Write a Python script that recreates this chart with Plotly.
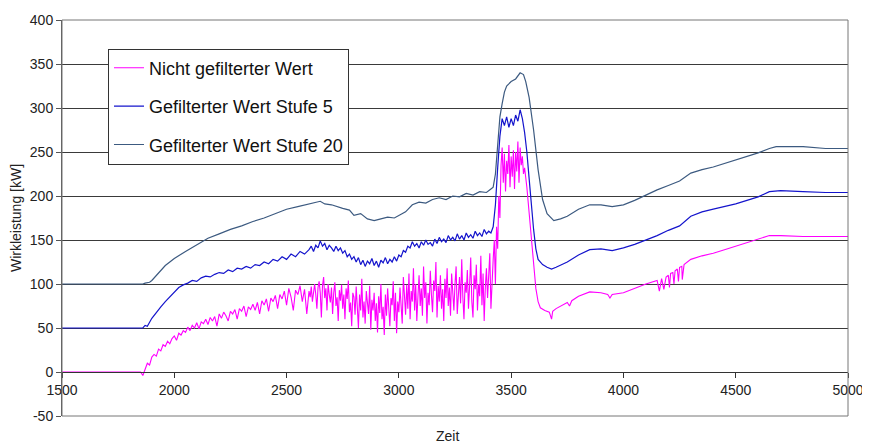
import plotly.graph_objects as go

# ---------------- data ----------------
x_raw = [1500, 1850,
         1860, 1870, 1880, 1890, 1900, 1910, 1920, 1930, 1940, 1950,
         1960, 1970, 1980, 1990, 2000, 2010, 2020, 2030, 2040, 2050,
         2060, 2070, 2080, 2090, 2100, 2110, 2120, 2130, 2140, 2150,
         2160, 2170, 2180, 2190, 2200, 2210, 2220, 2230, 2240, 2250,
         2260, 2270, 2280, 2290, 2300, 2310, 2320, 2330, 2340, 2350,
         2360, 2370, 2380, 2390, 2400, 2410, 2420, 2430, 2440, 2450,
         2460, 2470, 2480, 2490, 2500, 2510, 2520, 2530, 2540, 2550,
         2560, 2570, 2580, 2590,
         2600, 2605, 2610, 2615, 2620, 2625, 2630, 2635, 2640, 2645,
         2650, 2655, 2660, 2665, 2670, 2675, 2680, 2685, 2690, 2695,
         2700, 2705, 2710, 2715, 2720, 2725, 2730, 2735, 2740, 2745,
         2750, 2755, 2760, 2765, 2770, 2775, 2780, 2785, 2790, 2795,
         2800, 2805, 2810, 2815, 2820, 2825, 2830, 2835, 2840, 2845,
         2850, 2855, 2860, 2865, 2870, 2875, 2880, 2885, 2890, 2895,
         2900, 2905, 2910, 2915, 2920, 2925, 2930, 2935, 2940, 2945,
         2950, 2955, 2960, 2965, 2970, 2975, 2980, 2985, 2990, 2995,
         3000, 3005, 3010, 3015, 3020, 3025, 3030, 3035, 3040, 3045,
         3050, 3055, 3060, 3065, 3070, 3075, 3080, 3085, 3090, 3095,
         3100, 3105, 3110, 3115, 3120, 3125, 3130, 3135, 3140, 3145,
         3150, 3155, 3160, 3165, 3170, 3175, 3180, 3185, 3190, 3195,
         3200, 3205, 3210, 3215, 3220, 3225, 3230, 3235, 3240, 3245,
         3250, 3255, 3260, 3265, 3270, 3275, 3280, 3285, 3290, 3295,
         3300, 3305, 3310, 3315, 3320, 3325, 3330, 3335, 3340, 3345,
         3350, 3355, 3360, 3365, 3370, 3375, 3380, 3385, 3390, 3395,
         3400, 3405, 3410, 3415, 3420,
         3425, 3430, 3435, 3440, 3445, 3450, 3455, 3460,
         3465, 3470, 3475, 3480, 3485, 3490, 3495, 3500, 3505, 3510,
         3515, 3520, 3525, 3530, 3535, 3540, 3545, 3550, 3555, 3560,
         3570, 3580, 3590, 3600, 3610, 3620, 3630, 3650, 3670, 3680,
         3685, 3700, 3750, 3760, 3770, 3800, 3850, 3900, 3930, 3940,
         3950, 4000, 4050, 4100, 4150, 4160, 4170, 4180, 4190, 4200,
         4205, 4210, 4220, 4225, 4230, 4240, 4245, 4250, 4260, 4262,
         4270, 4300, 4350, 4400, 4450, 4500, 4550, 4600, 4650, 4700,
         4800, 4900, 5000]
y_raw = [0, 0,
         -4, 3, 10, 8, 17, 20, 18, 26, 24, 31,
         29, 35, 32, 38, 41, 36, 44, 42, 47, 45,
         51, 47, 53, 50, 56, 49, 57, 55, 60, 54,
         62, 58, 63, 52, 66, 61, 68, 64, 58, 69,
         66, 71, 60, 72, 69, 75, 63, 74, 71, 77,
         70, 79, 66, 81, 76, 83, 69, 84, 80, 87,
         72, 88, 83, 92, 76, 95, 85, 70, 93, 88,
         98, 80, 94, 66,
         92, 85, 97, 80, 95, 100, 88, 72, 96, 103,
         90, 62, 98, 108, 84, 95, 70, 100, 88, 79,
         96, 66, 90, 102, 75, 85, 58, 93, 81, 99,
         72, 88, 60, 95, 83, 104, 68, 79, 52, 90,
         85, 65, 97, 74, 50, 88, 70, 106, 62, 80,
         55, 92, 75, 66, 98, 48, 82, 70, 90, 58,
         78, 45, 86, 67, 100, 60, 74, 42, 88, 64,
         95, 70, 52, 84, 76, 103, 58, 90, 44, 80,
         68, 96, 74, 55, 108, 82, 65, 99, 72, 112,
         60, 92, 80, 118, 70, 100, 58, 86, 110, 75,
         95, 64, 120, 84, 102, 55, 90, 76, 115, 88,
         68, 104, 92, 125, 62, 98, 80, 110, 72, 94,
         58, 106, 84, 118, 75, 96, 64, 112, 88, 70,
         100, 120, 66, 92, 108, 78, 128, 85, 60, 102,
         90, 116, 72, 98, 130, 80, 62, 110, 94, 122,
         70, 100, 86, 132, 76, 112, 58, 96, 118, 84,
         104, 135, 72, 110, 128,
         150, 100, 165, 140, 200, 175, 235, 255,
         215, 248, 205, 240, 225, 258, 210, 245, 222, 252,
         208, 250, 228, 262, 215, 255, 235, 245, 225, 232,
         210, 180, 150, 120, 95, 80, 73, 70, 68, 60,
         69, 72, 79, 75, 81, 86, 91, 90, 88, 84,
         88, 90, 95, 100, 104, 92, 106, 94, 108, 110,
         96, 112, 113, 100, 115, 117, 103, 119, 120, 105,
         122, 128, 132, 135, 139, 143, 147, 151, 155, 155,
         154, 154, 154]

x_s5 = [1500, 1860, 1870,
        1880, 1900, 1920, 1940, 1960, 1980, 2000, 2020, 2040, 2060,
        2080, 2100, 2120, 2140, 2160, 2180, 2200, 2220, 2240, 2260,
        2280, 2300, 2320, 2340, 2360, 2380, 2400, 2420, 2440, 2460,
        2480, 2500, 2520, 2540, 2560, 2580,
        2600, 2610, 2620, 2630, 2640, 2650, 2660, 2670, 2680, 2690,
        2700, 2710, 2720, 2730, 2740, 2750, 2760, 2770, 2780, 2790,
        2800, 2810, 2820, 2830, 2840, 2850, 2860, 2870, 2880, 2890,
        2900, 2910, 2920, 2930, 2940, 2950, 2960, 2970, 2980, 2990,
        3000, 3010, 3020, 3030, 3040, 3050, 3060, 3070, 3080, 3090,
        3100, 3110, 3120, 3130, 3140, 3150, 3160, 3170, 3180, 3190,
        3200, 3210, 3220, 3230, 3240, 3250, 3260, 3270, 3280, 3290,
        3300, 3310, 3320, 3330, 3340, 3350, 3360, 3370, 3380, 3390,
        3400, 3410, 3420,
        3430, 3440, 3450, 3460, 3470, 3480, 3490, 3500, 3510, 3520,
        3530, 3540, 3550, 3560, 3570, 3580, 3590, 3600, 3610, 3620,
        3640, 3660, 3680, 3700, 3750, 3800, 3850, 3900, 3950, 4000,
        4050, 4100, 4150, 4200, 4250, 4300, 4350, 4400, 4450, 4500,
        4550, 4600, 4650, 4700, 4800, 4900, 5000]
y_s5 = [50, 50, 53,
        52, 61, 68, 74, 80, 85, 90, 96, 99, 101,
        104, 103, 107, 109, 108, 111, 113, 112, 116, 114,
        118, 117, 120, 118, 122, 121, 125, 123, 128, 126,
        131, 128, 134, 131, 137, 134,
        139, 143, 137, 144, 141, 149, 143, 146, 139, 144,
        141, 137, 143, 138, 141, 135, 138, 131, 134, 128,
        131, 125, 130, 122, 127, 120, 126, 123, 129, 121,
        126, 119, 127, 124, 130, 123, 128, 125, 131, 126,
        133, 131, 138, 136, 143, 141, 148, 143, 146, 141,
        148, 144, 150, 145, 147, 143, 151, 146, 153, 148,
        151, 147, 155, 150, 153, 149, 157, 151, 155, 150,
        158, 153, 156, 152, 160, 155, 158, 154, 162, 157,
        160, 158, 165,
        190, 232, 268, 288, 280, 290, 278, 288, 280, 292,
        285, 298, 288, 272, 250, 220, 190, 162, 140, 128,
        122, 119, 117, 119, 125, 133, 139, 140, 138, 141,
        145, 150, 155, 161, 166, 177, 182, 185, 188, 191,
        195, 199, 205, 206, 205, 204, 204]

x_s20 = [1500, 1860, 1870, 1890, 1900, 1920, 1940, 1960, 1980, 2000,
         2050, 2100, 2150, 2200, 2250, 2300, 2350, 2400, 2450, 2500,
         2550, 2600, 2650, 2670, 2700, 2750, 2780, 2800, 2830, 2860,
         2890, 2920, 2950, 2980, 3000, 3030, 3060, 3090, 3120, 3150,
         3180, 3210, 3240, 3270, 3300, 3330, 3360, 3390, 3410, 3420,
         3430, 3440, 3450, 3460, 3470, 3480, 3500, 3520, 3540, 3555,
         3565, 3580, 3600, 3620, 3640, 3660, 3690, 3720, 3750, 3800,
         3850, 3900, 3950, 4000, 4050, 4100, 4150, 4200, 4250, 4300,
         4350, 4400, 4450, 4500, 4550, 4600, 4650, 4680, 4800, 4900,
         5000]
y_s20 = [100, 100, 101, 102, 104, 110, 116, 121, 125, 129,
         137, 145, 152, 157, 162, 166, 171, 175, 180, 185,
         188, 191, 194, 191, 190, 186, 184, 178, 180, 174,
         172, 174, 176, 175, 178, 182, 190, 193, 192, 196,
         198, 196, 200, 199, 203, 201, 205, 204, 208, 210,
         225, 262, 290, 305, 318, 325, 330, 333, 340, 338,
         330, 312, 275, 230, 196, 180, 172, 174, 177, 185,
         190, 190, 188, 190, 195, 201, 207, 212, 217, 226,
         230, 233, 237, 241, 245, 249, 254, 256, 256, 254,
         254]

names = ["Nicht gefilterter Wert", "Gefilterter Wert Stufe 5", "Gefilterter Wert Stufe 20"]
x_ticks = [1500, 2000, 2500, 3000, 3500, 4000, 4500, 5000]
y_ticks = [-50, 0, 50, 100, 150, 200, 250, 300, 350, 400]

# ---------------- figure ----------------
FONT = "Liberation Sans, Arial, sans-serif"
fig = go.Figure()
series = [(x_raw, y_raw, "#FF00FF", 1.1), (x_s5, y_s5, "#1414CC", 1.2), (x_s20, y_s20, "#3C5A80", 1.2)]
for i, ((xs, ys, col, w), nm) in enumerate(zip(series, names)):
    fig.add_trace(go.Scatter(x=xs, y=ys, mode="lines", name=nm,
                             line=dict(color=col, width=w),
                             legendgroup=f"g{i}"))

fig.update_layout(
    width=862, height=436,
    margin=dict(l=54, r=22, t=4, b=28),
    paper_bgcolor="white", plot_bgcolor="white",
    font=dict(family=FONT, size=14, color="#222"),
    showlegend=True,
    legend=dict(x=0.0585, y=0.928, xanchor="left", yanchor="top",
                bgcolor="white", bordercolor="#333", borderwidth=1,
                font=dict(family=FONT, size=18, color="#111"),
                tracegroupgap=12, itemwidth=30),
    xaxis=dict(range=[1500, 5000], tickvals=x_ticks, ticktext=[str(v) for v in x_ticks],
               showgrid=False, zeroline=False, showline=True, linecolor="#333",
               linewidth=1, ticks="outside", ticklen=5, tickcolor="#333",
               anchor="free", position=50 / 450, ticklabeloverflow="allow",
               tickfont=dict(family=FONT, size=14, color="#222")),
    yaxis=dict(range=[-50, 400], tickvals=y_ticks, ticktext=[str(v) for v in y_ticks],
               showgrid=True, gridcolor="#3a3a3a", gridwidth=1.2, zeroline=False,
               showline=True, linecolor="#555", linewidth=1,
               ticks="outside", ticklen=5, tickcolor="#555",
               ticklabeloverflow="allow",
               title=dict(text="Wirkleistung [kW]", standoff=8,
                          font=dict(family=FONT, size=14, color="#222")),
               tickfont=dict(family=FONT, size=14, color="#222")),
    shapes=[dict(type="rect", xref="paper", yref="paper", x0=0, y0=0, x1=1, y1=1,
                 line=dict(color="#777", width=1), fillcolor="rgba(0,0,0,0)", layer="above")],
    annotations=[dict(text="Zeit", xref="paper", yref="paper", x=0.49, y=0,
                      yshift=-20, showarrow=False, yanchor="middle",
                      font=dict(family=FONT, size=14, color="#222"))],
)

fig.write_html("out.html")
